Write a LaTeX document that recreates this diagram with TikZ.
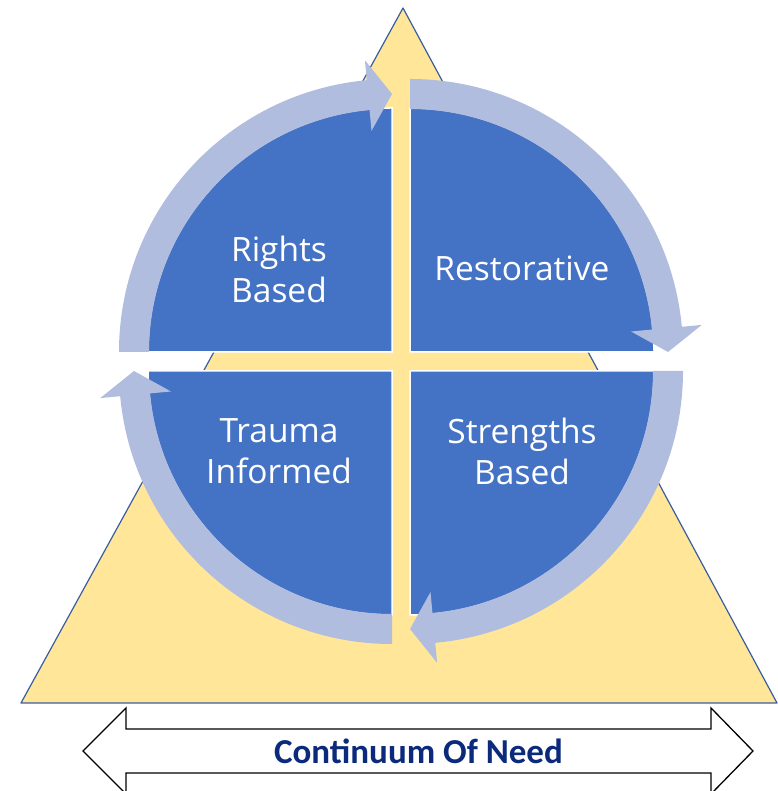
\documentclass[tikz,border=0pt]{standalone}
\usepackage{fontspec}
\setmainfont{Open Sans}
\newfontfamily\labelfont{Carlito}
\begin{document}
\begin{tikzpicture}[x=1pt,y=1pt,
  basefill/.style={fill=triyellow,draw=triedge,line width=1.2pt,line join=round},
  quarter/.style={fill=quadblue,draw=white,line width=1.5pt},
  ringarrow/.style={fill=ringblue,draw=none},
  quadtext/.style={text=white,align=center,font=\fontsize{33.5}{41}\selectfont},
  needarrow/.style={fill=white,draw=black,line width=1.3pt,line join=miter},
  needtext/.style={text=needblue,font=\labelfont\bfseries\fontsize{35}{40}\selectfont}
]
\definecolor{triyellow}{HTML}{FFE699}
\definecolor{triedge}{HTML}{3A5DA0}
\definecolor{quadblue}{HTML}{4472C4}
\definecolor{ringblue}{HTML}{B0BDDF}
\definecolor{needblue}{HTML}{0C2A7C}

\useasboundingbox (0,0) rectangle (777,791);

% triangle behind the circle
\path[basefill] (403,783) -- (777,88) -- (21,88) -- cycle;

% quadrant corners
\coordinate (tl) at (392,439);
\coordinate (tr) at (410,439);
\coordinate (br) at (410,420);
\coordinate (bl) at (392,420);

% blue quarter discs
\path[quarter] (tl) -- ++(180:244pt) arc[start angle=180,end angle=90,radius=244pt] -- cycle;
\path[quarter] (tr) -- ++(90:244pt) arc[start angle=90,end angle=0,radius=244pt] -- cycle;
\path[quarter] (br) -- ++(0:244pt) arc[start angle=0,end angle=-90,radius=244pt] -- cycle;
\path[quarter] (bl) -- ++(-90:244pt) arc[start angle=-90,end angle=-180,radius=244pt] -- cycle;

% curved arrows running clockwise round each quarter
\foreach \c/\a in {tl/180, tr/90, br/0, bl/-90}{
  \pgfmathsetmacro{\e}{\a-90}
  \pgfmathsetmacro{\b}{\a-90+5.3}
  \begin{scope}[shift={(\c)}]
    \path[ringarrow] (\a:273pt) arc[start angle=\a,end angle=\b,radius=273pt]
      -- (\b:293pt) -- (\e:258pt) -- (\b:222pt) -- (\b:243pt)
      arc[start angle=\b,end angle=\a,radius=243pt] -- cycle;
  \end{scope}
}

% quadrant labels
\node[quadtext] (rights) at (279,522) {Rights\\Based};
\node[quadtext,anchor=base] (restore) at (522,510) {Restorative};
\node[quadtext] (trauma) at (279,340) {Trauma\\Informed};
\node[quadtext] (strength) at (522,340) {Strengths\\Based};

% double-headed arrow along the base
\path[needarrow] (83,40) -- (126,83) -- (126,62) -- (711,62) -- (711,83)
  -- (753,40) -- (711,-3) -- (711,18) -- (126,18) -- (126,-3) -- cycle;
\node[needtext,anchor=base] (need) at (418.5,27) {Continuum Of Need};
\end{tikzpicture}
\end{document}
